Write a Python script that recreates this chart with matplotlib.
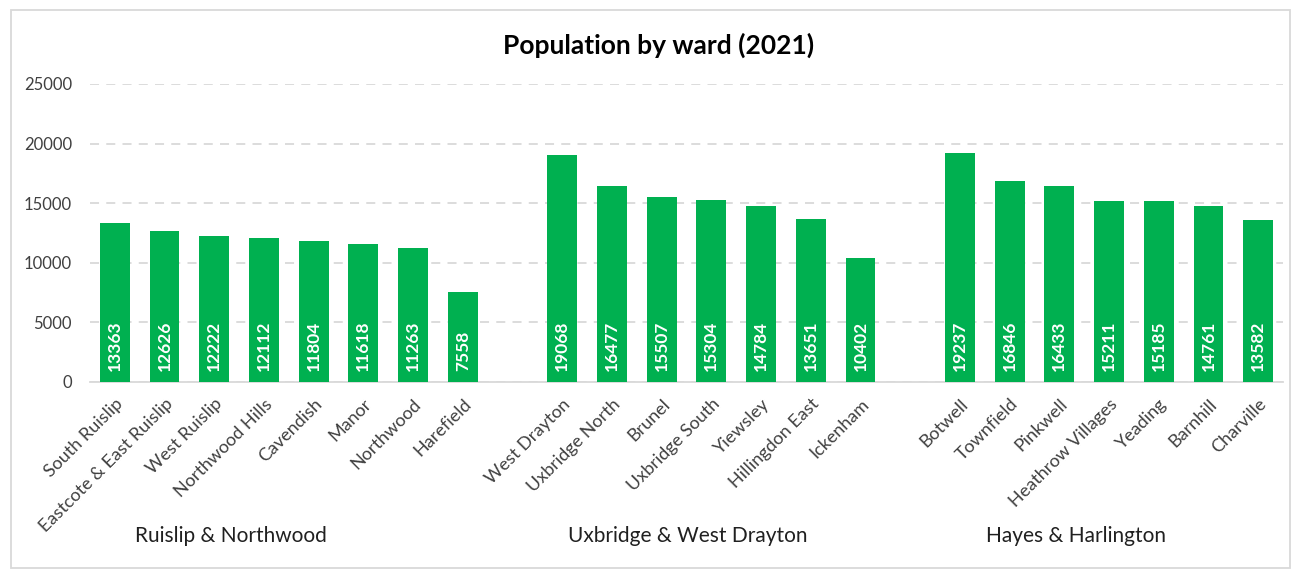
import matplotlib
matplotlib.use("Agg")
import matplotlib.pyplot as plt
from matplotlib.patches import Rectangle

plt.rcParams['font.family'] = ['Lato', 'DejaVu Sans']

groups = ["Ruislip & Northwood", "Uxbridge & West Drayton", "Hayes & Harlington"]
ruislip_wards = ["South Ruislip", "Eastcote & East Ruislip", "West Ruislip", "Northwood Hills",
                 "Cavendish", "Manor", "Northwood", "Harefield"]
ruislip_pop = [13363, 12626, 12222, 12112, 11804, 11618, 11263, 7558]
uxbridge_wards = ["West Drayton", "Uxbridge North", "Brunel", "Uxbridge South",
                  "Yiewsley", "Hillingdon East", "Ickenham"]
uxbridge_pop = [19068, 16477, 15507, 15304, 14784, 13651, 10402]
hayes_wards = ["Botwell", "Townfield", "Pinkwell", "Heathrow Villages",
               "Yeading", "Barnhill", "Charville"]
hayes_pop = [19237, 16846, 16433, 15211, 15185, 14761, 13582]
yticks = [0, 5000, 10000, 15000, 20000, 25000]

green = "#00B050"
fig = plt.figure(figsize=(12.96, 5.71), dpi=100)
ax = fig.add_axes([90/1296, 1-382/571, (1283-90)/1296, (382-84)/571])

positions, labels, values = [], [], []
pos = 0
for wards, pops in [(ruislip_wards, ruislip_pop), (uxbridge_wards, uxbridge_pop), (hayes_wards, hayes_pop)]:
    gp = list(range(pos, pos + len(wards)))
    positions += gp
    labels += wards
    values += pops
    pos += len(wards) + 1

ax.bar(positions, values, width=0.6, color=green, zorder=3)
for x, v in zip(positions, values):
    ax.annotate(str(v), (x, 0), xytext=(0, 8), textcoords="offset points",
                rotation=90, ha="center", va="bottom", color="white",
                fontsize=12.5, fontweight="bold", zorder=4)

ax.set_xlim(-0.5, pos - 1.5)
ax.set_ylim(0, 25000)
ax.set_yticks(yticks)
ax.set_yticklabels([str(t) for t in yticks], fontsize=12, color="#404040")
ax.yaxis.grid(True, linestyle=(0, (5, 4)), color="#D9D9D9", linewidth=1.3, zorder=0)
ax.tick_params(axis="y", length=0, pad=13)
ax.tick_params(axis="x", length=0, pad=10)
ax.set_xticks(positions)
ax.set_xticklabels(labels, rotation=45, ha="right", rotation_mode="anchor",
                   fontsize=13, color="#404040")
for s in ["top", "right", "left"]:
    ax.spines[s].set_visible(False)
ax.spines["bottom"].set_color("#D9D9D9")
ax.spines["bottom"].set_linewidth(1.3)

group_label_x = [231, 688, 1076]
for g, px in zip(groups, group_label_x):
    fig.text(px/1296, 1-536/571, g, ha="center", va="center", fontsize=15, color="#202020")

fig.text(659/1296, 1-45/571, "Population by ward (2021)", ha="center", va="center",
         fontsize=19, fontweight="bold", color="black")

fig.patches.append(Rectangle((11/1296, 1-568/571), (1290-11)/1296, (568-10)/571,
                             transform=fig.transFigure, fill=False,
                             edgecolor="#D9D9D9", linewidth=1.3))

fig.savefig("out.png", dpi=100)
